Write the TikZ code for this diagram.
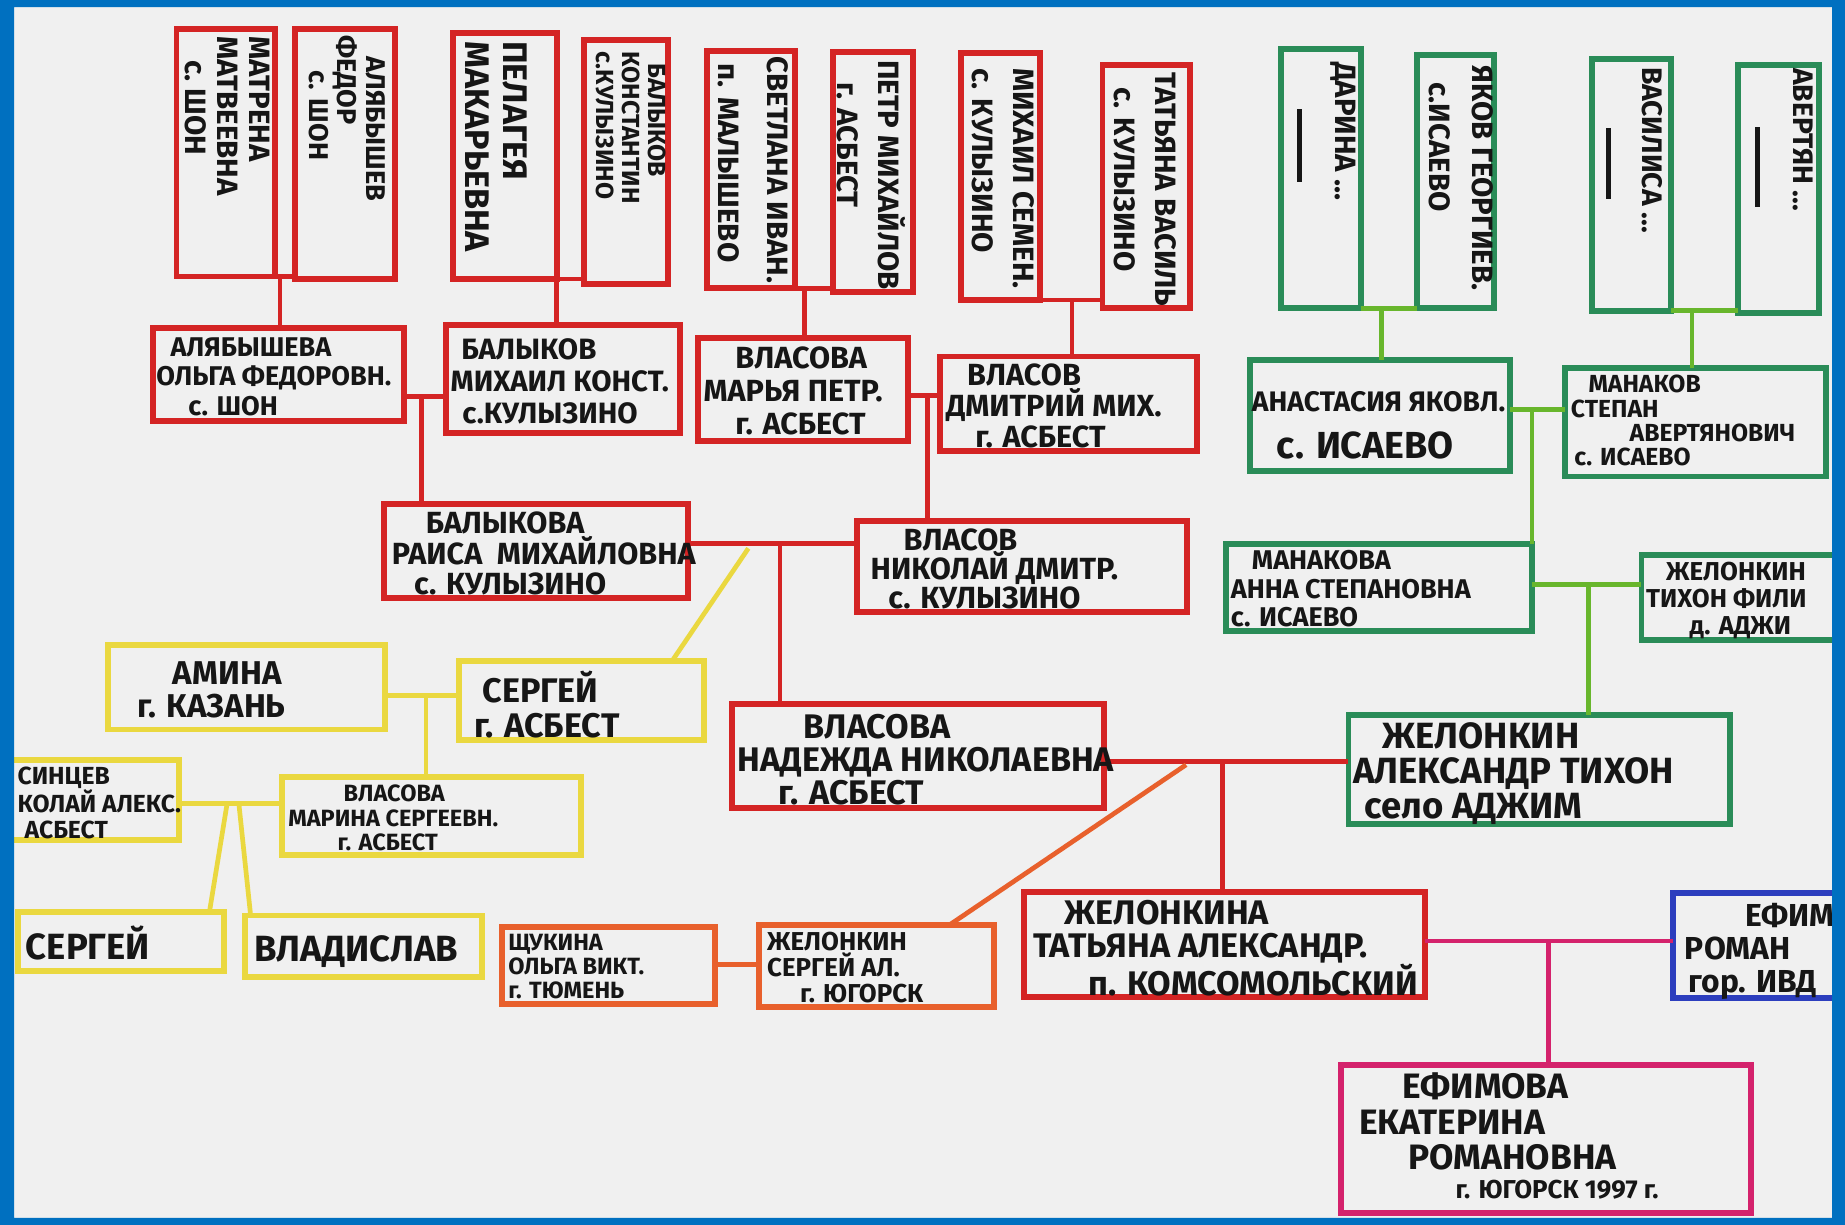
\documentclass[tikz,border=0pt]{standalone}
\usepackage{fontspec}
\setmainfont{Fira Sans}
\usetikzlibrary{calc}
\definecolor{cred}{RGB}{212,36,36}
\definecolor{cgreen}{RGB}{42,140,88}
\definecolor{clime}{RGB}{104,182,44}
\definecolor{cyel}{RGB}{234,216,64}
\definecolor{corange}{RGB}{232,96,44}
\definecolor{cmag}{RGB}{212,34,108}
\definecolor{cblue}{RGB}{44,62,190}
\definecolor{cframe}{RGB}{0,112,192}
\definecolor{paper}{RGB}{240,240,240}
\definecolor{ink}{RGB}{22,22,22}
\newcommand\hw[2]{\fontsize{#1}{#2}\selectfont\bfseries}
\newcommand\mkbox[6]{\node[#1, minimum width={#4-#2}, minimum height={#5-#3}] (#6) at ({(#2+#4)/2},{-(#3+#5)/2}) {};}
\tikzset{
 bx/.style={draw, line width=5pt, inner sep=0pt, outer sep=0pt, rectangle},
 rb/.style={bx, draw=cred}, gb/.style={bx, draw=cgreen}, yb/.style={bx, draw=cyel},
 ob/.style={bx, draw=corange}, mb/.style={bx, draw=cmag}, bb/.style={bx, draw=cblue},
 rl/.style={draw=cred, line width=4pt}, gl/.style={draw=clime, line width=4pt},
 yl/.style={draw=cyel, line width=4pt}, ol/.style={draw=corange, line width=4pt},
 ml/.style={draw=cmag, line width=4pt},
 t/.style={inner sep=0pt, outer sep=0pt, align=left, anchor=north west, text=ink},
 vt/.style={t, rotate=-90}
}
\begin{document}
\begin{tikzpicture}[x=1pt,y=1pt]
\useasboundingbox (0,0) rectangle (1568,-1041);
\fill[paper] (0,0) rectangle (1568,-1041);
% ---------- boxes: top generation ----------
\mkbox{rb}{150}{25}{234}{235}{B1}
\mkbox{rb}{251}{25}{336}{237}{B2}
\mkbox{rb}{385}{28}{473}{237}{B3}
\mkbox{rb}{496}{34}{568}{241}{B4}
\mkbox{rb}{601}{43}{676}{245}{B5}
\mkbox{rb}{708}{44}{776}{248}{B6}
\mkbox{rb}{817}{45}{884}{255}{B7}
\mkbox{rb}{937}{55}{1011}{262}{B8}
\mkbox{gb}{1089}{42}{1157}{262}{B9}
\mkbox{gb}{1204}{47}{1270}{262}{B10}
\mkbox{gb}{1353}{50}{1420}{264}{B11}
\mkbox{gb}{1477}{55}{1546}{266}{B12}
% ---------- row 2 ----------
\mkbox{rb}{130}{279}{343}{358}{R1}
\mkbox{rb}{379}{276}{578}{368}{R2}
\mkbox{rb}{593}{287}{772}{375}{R3}
\mkbox{rb}{799}{303}{1017}{383}{R4}
\mkbox{gb}{1062}{306}{1283}{400}{G1}
\mkbox{gb}{1330}{313}{1552}{405}{G2}
% ---------- row 3 ----------
\mkbox{rb}{326}{428}{585}{508}{R5}
\mkbox{rb}{728}{443}{1009}{520}{R6}
\mkbox{gb}{1042}{462}{1302}{536}{G3}
\mkbox{gb}{1395}{472}{1590}{544}{G4}
% ---------- yellow ----------
\mkbox{yb}{92}{548}{327}{620}{Y1}
\mkbox{yb}{390}{562}{598}{629}{Y2}
\mkbox{yb}{-20}{646}{152}{714}{Y3}
\mkbox{yb}{240}{660}{494}{727}{Y4}
\mkbox{yb}{15}{775}{190}{825}{Y5}
\mkbox{yb}{208}{778}{410}{830}{Y6}
% ---------- lower ----------
\mkbox{rb}{622}{598}{938}{687}{R7}
\mkbox{gb}{1146}{608}{1470}{700}{G5}
\mkbox{ob}{427}{788}{608}{853}{O1}
\mkbox{ob}{645}{786}{845}{856}{O2}
\mkbox{rb}{870}{758}{1211}{847}{R8}
\mkbox{bb}{1422}{759}{1590}{848}{E1}
\mkbox{mb}{1140}{905}{1488}{1031}{M1}
% ---------- connectors: top pairs ----------
\draw[rl] (B1.south east) -- (B1.south east -| B2.west);
\coordinate (j1) at ($(B1.south east)+(4,0)$);
\draw[rl] (j1) -- (j1 |- R1.north);
\draw[rl] (B3.south east) -- (B3.south east -| B4.west);
\coordinate (j2) at (B3.south east);
\draw[rl] (j2) -- (j2 |- R2.north);
\draw[rl] (B5.south east) -- (B5.south east -| B6.west);
\coordinate (j3) at ($(B5.south east)+(8,0)$);
\draw[rl] (j3) -- (j3 |- R3.north);
\draw[rl] (B7.south east) -- (B7.south east -| B8.west);
\coordinate (j4) at ($(B7.south east)+(27,0)$);
\draw[rl] (j4) -- (j4 |- R4.north);
\draw[gl] (B9.south east) -- (B9.south east -| B10.west);
\coordinate (k1) at ($(B9.south east)+(17,0)$);
\draw[gl] (k1) -- (k1 |- G1.north);
\draw[gl] (B11.south east) -- (B11.south east -| B12.west);
\coordinate (k2) at ($(B11.south east)+(18,0)$);
\draw[gl] (k2) -- (k2 |- G2.north);
% ---------- connectors: couples ----------
\coordinate (l1) at ($(R1.south east)!0.27!(R1.north east)$);
\draw[rl] (l1) -- (l1 -| R2.west);
\coordinate (v1) at ($(l1)+(15,0)$);
\draw[rl] (v1) -- (v1 |- R5.north);
\coordinate (l2) at ($(R3.south east)!0.44!(R3.north east)$);
\draw[rl] (l2) -- (l2 -| R4.west);
\coordinate (v2) at ($(l2)+(16,0)$);
\draw[rl] (v2) -- (v2 |- R6.north);
\coordinate (l3) at ($(R5.south east)!0.575!(R5.north east)$);
\draw[rl] (l3) -- (l3 -| R6.west);
\coordinate (v3) at ($(l3)+(78,0)$);
\draw[rl] (v3) -- (v3 |- R7.north);
\coordinate (d1) at ($(l3)+(51,-4)$);
\coordinate (y2t) at ($(Y2.north east)+(-27,0)$);
\draw[yl] (d1) -- (y2t);
\coordinate (m1) at ($(G1.south east)!0.553!(G1.north east)$);
\draw[gl] (m1) -- (m1 -| G2.west);
\coordinate (v4) at ($(m1)+(19,0)$);
\draw[gl] (v4) -- (v4 |- G3.north);
\coordinate (m2) at ($(G3.south east)!0.527!(G3.north east)$);
\draw[gl] (m2) -- (m2 -| G4.west);
\coordinate (v5) at ($(m2)+(48,0)$);
\draw[gl] (v5) -- (v5 |- G5.north);
\coordinate (n1) at ($(Y1.south east)!0.40!(Y1.north east)$);
\draw[yl] (n1) -- (n1 -| Y2.west);
\coordinate (v6) at ($(n1)+(35,0)$);
\draw[yl] (v6) -- (v6 |- Y4.north);
\coordinate (n2) at ($(Y3.south east)!0.456!(Y3.north east)$);
\draw[yl] (n2) -- (n2 -| Y4.west);
\coordinate (c1) at ($(n2)+(41,0)$);
\coordinate (c2) at ($(n2)+(51,0)$);
\coordinate (y5t) at ($(Y5.north east)+(-12,0)$);
\coordinate (y6t) at ($(Y6.north west)+(5,0)$);
\draw[yl] (c1) -- (y5t);
\draw[yl] (c2) -- (y6t);
\coordinate (p1) at ($(R7.south east)!0.45!(R7.north east)$);
\draw[rl] (p1) -- (p1 -| G5.west);
\coordinate (v7) at ($(p1)+(101,0)$);
\draw[rl] (v7) -- (v7 |- R8.north);
\coordinate (d2) at ($(p1)+(70,-3)$);
\coordinate (o2t) at ($(O2.north east)+(-38,0)$);
\draw[ol] (d2) -- (o2t);
\coordinate (q1) at ($(O1.south east)!0.51!(O1.north east)$);
\draw[ol] (q1) -- (q1 -| O2.west);
\coordinate (r1) at ($(R8.south east)!0.53!(R8.north east)$);
\draw[ml] (r1) -- (r1 -| E1.west);
\coordinate (v8) at ($(r1)+(105,0)$);
\draw[ml] (v8) -- (v8 |- M1.north);
% ---------- vertical texts ----------
\node[vt, font=\hw{25}{27}] (B1t) at (229,-31) {МАТРЕНА\\МАТВЕЕВНА\\\hspace*{20pt}с.\ ШОН};
\node[vt, font=\hw{23}{24}] (B2t) at (327,-30) {\hspace*{18pt}АЛЯБЫШЕВ\\ФЕДОР\\\hspace*{30pt}с. ШОН};
\node[vt, font=\hw{29}{32}] (B3t) at (448,-35) {ПЕЛАГЕЯ\\МАКАРЬЕВНА};
\node[vt, font=\hw{21}{22}] (B4t) at (566,-44) {\hspace*{10pt}БАЛЫКОВ\\КОНСТАНТИН\\с.КУЛЫЗИНО};
\node[vt, font=\hw{25}{42}] (B5t) at (670,-48) {СВЕТЛАНА ИВАН.\\\hspace*{6pt}п. МАЛЫШЕВО};
\node[vt, font=\hw{25}{35}] (B6t) at (770,-51) {ПЕТР МИХАЙЛОВ\\\hspace*{19pt}г. АСБЕСТ};
\node[vt, font=\hw{25}{35}] (B7t) at (879,-58) {МИХАИЛ СЕМЕН.\\с. КУЛЫЗИНО};
\node[vt, font=\hw{25}{35}] (B8t) at (1000,-62) {ТАТЬЯНА ВАСИЛЬ\\\hspace*{12pt}с. КУЛЫЗИНО};
\node[vt, font=\hw{25}{40}] (B9t) at (1152,-53) {ДАРИНА ...\\\hspace*{40pt}\rule[0.3em]{62pt}{4pt}};
\node[vt, font=\hw{25}{36}] (B10t) at (1269,-56) {ЯКОВ ГЕОРГИЕВ.\\\hspace*{14pt}с.ИСАЕВО};
\node[vt, font=\hw{24}{38}] (B11t) at (1413,-57) {ВАСИЛИСА ...\\\hspace*{52pt}\rule[0.3em]{60pt}{4pt}};
\node[vt, font=\hw{24}{40}] (B12t) at (1541,-58) {АВЕРТЯН ...\\\hspace*{50pt}\rule[0.3em]{68pt}{4pt}};
% ---------- horizontal texts ----------
\node[t, font=\hw{23}{25}] (R1t) at (133,-287) {\hspace*{12pt}АЛЯБЫШЕВА\\ОЛЬГА ФЕДОРОВН.\\\hspace*{27pt}с. ШОН};
\node[t, font=\hw{25}{27}] (R2t) at (383,-288) {\hspace*{9pt}БАЛЫКОВ\\МИХАИЛ КОНСТ.\\\hspace*{10pt}с.КУЛЫЗИНО};
\node[t, font=\hw{26}{28}] (R3t) at (598,-295) {\hspace*{27pt}ВЛАСОВА\\МАРЬЯ ПЕТР.\\\hspace*{27pt}г. АСБЕСТ};
\node[t, font=\hw{26}{26.5}] (R4t) at (804,-309) {\hspace*{18pt}ВЛАСОВ\\ДМИТРИЙ МИХ.\\\hspace*{25pt}г. АСБЕСТ};
\node[t, font=\hw{24}{40}] (G1t) at (1064,-333) {АНАСТАСИЯ ЯКОВЛ.\\{\hw{32}{40}\hspace*{21pt}с. ИСАЕВО}};
\node[t, font=\hw{21}{20.5}] (G2t) at (1335,-319) {\hspace*{15pt}МАНАКОВ\\СТЕПАН\\\hspace*{50pt}АВЕРТЯНОВИЧ\\\hspace*{3pt}с. ИСАЕВО};
\node[t, font=\hw{26}{26}] (R5t) at (333,-435) {\hspace*{29pt}БАЛЫКОВА\\РАИСА\ \ МИХАЙЛОВНА\\\hspace*{19pt}с. КУЛЫЗИНО};
\node[t, font=\hw{26}{25}] (R6t) at (740,-449) {\hspace*{28pt}ВЛАСОВ\\НИКОЛАЙ ДМИТР.\\\hspace*{15pt}с. КУЛЫЗИНО};
\node[t, font=\hw{23}{24}] (G3t) at (1046,-468) {\hspace*{18pt}МАНАКОВА\\АННА СТЕПАНОВНА\\с. ИСАЕВО};
\node[t, font=\hw{22}{23}] (G4t) at (1399,-478) {\hspace*{17pt}ЖЕЛОНКИН\\ТИХОН ФИЛИ\\\hspace*{37pt}д. АДЖИ};
\node[t, font=\hw{28}{28}] (Y1t) at (117,-562) {\hspace*{30pt}АМИНА\\г. КАЗАНЬ};
\node[t, font=\hw{29}{30}] (Y2t) at (403,-570) {\hspace*{7pt}СЕРГЕЙ\\г. АСБЕСТ};
\node[t, font=\hw{21}{22}] (Y3t) at (15,-652) {СИНЦЕВ\\КОЛАЙ АЛЕКС.\\\hspace*{6pt}АСБЕСТ};
\node[t, font=\hw{20}{21}] (Y4t) at (245,-667) {\hspace*{47pt}ВЛАСОВА\\МАРИНА СЕРГЕЕВН.\\\hspace*{42pt}г. АСБЕСТ};
\node[t, font=\hw{31}{31}] (Y5t) at (22,-787) {СЕРГЕЙ};
\node[t, font=\hw{31}{31}] (Y6t) at (216,-795) {ВЛАДИСЛАВ};
\node[t, font=\hw{29}{28}] (R7t) at (627,-607) {\hspace*{56pt}ВЛАСОВА\\НАДЕЖДА НИКОЛАЕВНА\\\hspace*{35pt}г. АСБЕСТ};
\node[t, font=\hw{31}{30}] (G5t) at (1150,-614) {\hspace*{25pt}ЖЕЛОНКИН\\АЛЕКСАНДР ТИХОН\\\hspace*{10pt}село АДЖИМ};
\node[t, font=\hw{20}{20.5}] (O1t) at (432,-794) {ЩУКИНА\\ОЛЬГА ВИКТ.\\г. ТЮМЕНЬ};
\node[t, font=\hw{22}{22}] (O2t) at (652,-792) {ЖЕЛОНКИН\\СЕРГЕЙ АЛ.\\\hspace*{28pt}г. ЮГОРСК};
\node[t, font=\hw{29}{28}] (R8t) at (878,-765) {\hspace*{27pt}ЖЕЛОНКИНА\\ТАТЬЯНА АЛЕКСАНДР.\\\hspace*{47pt}п. КОМСОМОЛЬСКИЙ};
\node[t, font=\hw{27}{28}] (E1t) at (1432,-768) {\hspace*{51pt}ЕФИМ\\РОМАН\\\hspace*{3pt}гор. ИВД};
\node[t, font=\hw{30}{30}] (M1t) at (1155,-912) {\hspace*{37pt}ЕФИМОВА\\ЕКАТЕРИНА\\\hspace*{42pt}РОМАНОВНА\\[-5pt]\hspace*{82pt}{\hw{22}{30}г. ЮГОРСК 1997 г.}};
% ---------- blue frame ----------
\fill[cframe, even odd rule] (-40,40) rectangle (1610,-1080) (12,-6) rectangle (1557,-1035);
\end{tikzpicture}
\end{document}
